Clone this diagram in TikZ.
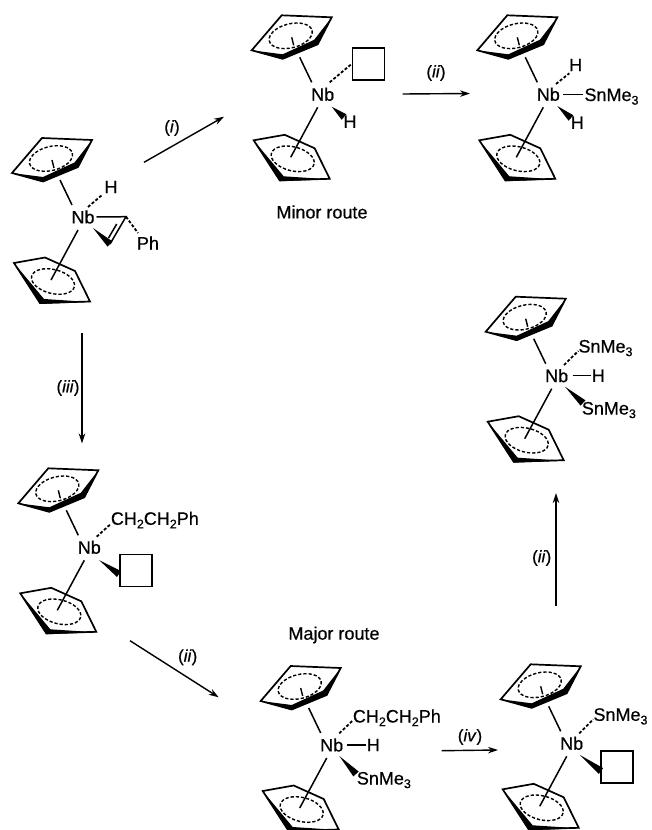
\documentclass[tikz,border=0pt]{standalone}
\usepackage{fontspec}
\setmainfont[FakeBold=0.5]{Liberation Sans}
\usetikzlibrary{calc,arrows.meta}
\tikzset{
  x=1pt,y=-1pt,
  bondline/.style={line width=1.5pt,line cap=butt},
  dashbond/.style={line width=1.8pt,dash pattern=on 3pt off 1.9pt},
  ringline/.style={line width=1.7pt,line join=miter},
  ringdash/.style={line width=1.4pt,dash pattern=on 3.2pt off 2pt},
  rxn/.style={line width=1.4pt,-{Stealth[length=10pt,width=6.5pt]}},
  lbl/.style={font=\fontsize{18}{20}\selectfont,inner sep=0pt},
  stepname/.style={font=\fontsize{17}{19}\selectfont,inner sep=0pt},
  site/.style={draw,line width=1.5pt,minimum size=32pt,inner sep=0pt},
}
\newcommand{\lowsub}[1]{\raisebox{-3.6pt}{\fontsize{12.5}{12.5}\selectfont #1}}
\newcommand{\stannyl}{SnMe\lowsub{3}}
\newcommand{\phenethyl}{CH\lowsub{2}CH\lowsub{2}Ph}
\newcommand{\rxlabel}[1]{(\textit{#1})}
% metallocene fragment: name, x, y
\newcommand{\nbunit}[3]{%
  \node[lbl] (#1) at (#2,#3) {Nb};
  \begin{scope}[shift={(#2,#3)}]
    % upper ring
    \draw[ringline] (-41,-79) -- (9,-77) -- (-5,-50) -- (-40,-35.5) -- (-71,-44) -- cycle;
    \fill (-71,-44) -- (-40,-35) -- (-5,-50) -- (9,-77) -- (-8.5,-54.5) -- (-40,-40) -- cycle;
    \draw[ringdash,shift={(-32,-58.5)},rotate=14] (0,0) ellipse (22 and 12);
    \draw[line width=1.4pt] (-31,-57) -- (-29,-49);
    \coordinate (#1ua) at (-11,-12);
    \coordinate (#1ub) at (-23,-37);
    % lower ring
    \draw[ringline] (-69,46) -- (-38,40.5) -- (-8,54) -- (7,84.5) -- (-43,86) -- cycle;
    \fill (-69,46) -- (-43,87) -- (7,85) -- (-39,82) -- cycle;
    \draw[ringdash,shift={(-30,64.5)},rotate=-14] (0,0) ellipse (22 and 12);
    \coordinate (#1la) at (-5,13);
    \coordinate (#1lb) at (-32,63);
  \end{scope}
  \draw[bondline] (#1ua) -- (#1ub);
  \draw[bondline] (#1la) -- (#1lb);
}
% wedge bond: narrow end, wide end
\newcommand{\wedgebond}[2]{%
  \coordinate (wa) at #1;
  \coordinate (wb) at #2;
  \fill (wa) -- ($(wb)!3.6pt!90:(wa)$) -- ($(wb)!3.6pt!-90:(wa)$) -- cycle;
}
\begin{document}
\begin{tikzpicture}
\clip (0,0) rectangle (652,830);
\fill[white] (0,0) rectangle (652,830);

% --- molecule 1: hydrido styrene complex
\nbunit{nbA}{83}{217}
\node[lbl] (hA) at (111,187) {H};
\node[lbl] (phA) at (148,243) {Ph};
\coordinate (vinA) at (126,216.7);
\coordinate (vinB) at (110,244);
\draw[dashbond] ($(nbA)+(5,-10)$) -- ($(hA)+(-9,8)$);
\draw[bondline] ($(nbA)+(13.5,0)$) -- (vinA) -- (vinB);
\draw[bondline] (116.7,224) -- (108.5,238);
\wedgebond{(93,228)}{(vinB)}
\draw[dashbond] (vinA) -- ($(phA)+(-10,-10)$);

% --- molecule 2: minor route vacant site
\nbunit{nbB}{322.7}{94.3}
\node[site] (boxB) at (368.3,64) {};
\node[lbl] (hB) at (350,121.7) {H};
\draw[dashbond] ($(nbB)+(7,-12)$) -- (boxB.west);
\wedgebond{(331.7,106.7)}{(344,117)}
\node[lbl,anchor=center] (minor) at (322,212) {Minor route};

% --- molecule 3
\nbunit{nbC}{548.3}{94.3}
\node[lbl] (hC1) at (575.7,65) {H};
\node[lbl,anchor=base west] (snC) at (584.3,101) {\stannyl};
\node[lbl] (hC2) at (577.3,122.7) {H};
\draw[dashbond] ($(nbC)+(7.7,-10.3)$) -- ($(hC1)+(-6.4,8.3)$);
\draw[bondline] ($(nbC)+(15,0)$) -- (582.7,94.3);
\wedgebond{(557.3,106)}{(571,118)}

% --- molecule 4
\nbunit{nbD}{556.7}{375.7}
\node[lbl,anchor=base west] (snD1) at (578.3,352.5) {\stannyl};
\node[lbl] (hD) at (598.3,375.7) {H};
\node[lbl,anchor=base west] (snD2) at (581.7,414.5) {\stannyl};
\draw[dashbond] ($(nbD)+(7.3,-10.7)$) -- (578.3,351);
\draw[bondline] ($(nbD)+(16,0)$) -- ($(hD)+(-7.6,0)$);
\wedgebond{(565,386.7)}{(583,403)}

% --- molecule 5
\nbunit{nbE}{89.3}{547.3}
\node[lbl,anchor=base west] (chE) at (110.7,524.8) {\phenethyl};
\node[site] (boxE) at (136,570.7) {};
\draw[dashbond] ($(nbE)+(7.4,-10.6)$) -- (110.7,524);
\wedgebond{(99,560)}{(119,574)}

% --- molecule 6
\nbunit{nbF}{331.7}{745}
\node[lbl,anchor=base west] (chF) at (352.7,722.5) {\phenethyl};
\node[lbl] (hF) at (373.3,745) {H};
\node[lbl,anchor=base west] (snF) at (356.7,784.5) {\stannyl};
\draw[dashbond] ($(nbF)+(7.6,-11.7)$) -- (353.3,720);
\draw[bondline] ($(nbF)+(15,0)$) -- ($(hF)+(-7.6,0)$);
\wedgebond{(339.3,756)}{(356,774)}
\node[lbl,anchor=center] (major) at (334,635) {Major route};

% --- molecule 7
\nbunit{nbG}{571.7}{743.3}
\node[lbl,anchor=base west] (snG) at (593.3,720.8) {\stannyl};
\node[site] (boxG) at (617,767) {};
\draw[dashbond] ($(nbG)+(7.6,-10)$) -- (593.3,719.3);
\wedgebond{(580,755)}{(601,771)}

% --- reaction arrows
\coordinate (r1a) at (144,162.3);  \coordinate (r1b) at (224,116.7);
\coordinate (r2a) at (402.7,94);   \coordinate (r2b) at (470,93.5);
\coordinate (r3a) at (82,332.7);   \coordinate (r3b) at (82,443.5);
\coordinate (r4a) at (130,640.7);  \coordinate (r4b) at (218.7,697.3);
\coordinate (r5a) at (441.7,750.7);\coordinate (r5b) at (498,750);
\coordinate (r6a) at (556,606);    \coordinate (r6b) at (556,493);
\draw[rxn] (r1a) -- (r1b);
\draw[rxn] (r2a) -- (r2b);
\draw[rxn] (r3a) -- (r3b);
\draw[rxn] (r4a) -- (r4b);
\draw[rxn] (r5a) -- (r5b);
\draw[rxn] (r6a) -- (r6b);
\node[stepname] (s1) at (172,128) {\rxlabel{i}};
\node[stepname] (s2) at (436,73) {\rxlabel{ii}};
\node[stepname] (s3) at (68,388) {\rxlabel{iii}};
\node[stepname] (s4) at (187.7,657.3) {\rxlabel{ii}};
\node[stepname] (s5) at (470,737) {\rxlabel{iv}};
\node[stepname] (s6) at (541.7,558) {\rxlabel{ii}};
\end{tikzpicture}
\end{document}
